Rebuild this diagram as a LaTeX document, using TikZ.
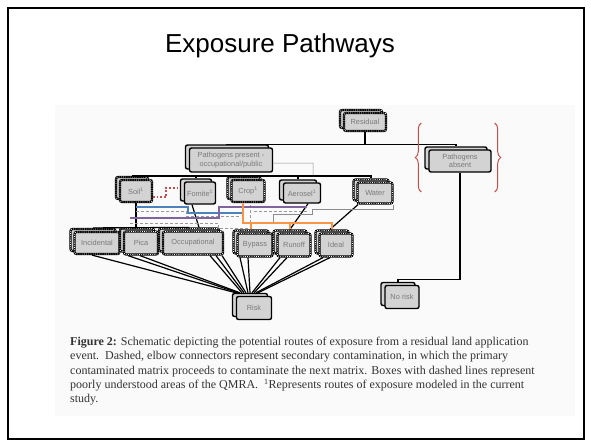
\documentclass[tikz,border=0pt]{standalone}
\usepackage{fontspec}
\setmainfont{Liberation Serif}
\setsansfont{Liberation Sans}
\usetikzlibrary{positioning,decorations.pathreplacing}

\definecolor{boxgrey}{HTML}{D3D3D3}
\definecolor{labelgrey}{HTML}{7A7A7A}
\definecolor{pathblue}{HTML}{4F81BD}
\definecolor{pathpurple}{HTML}{8064A2}
\definecolor{pathorange}{HTML}{F79646}
\definecolor{pathred}{HTML}{C0504D}

\begin{document}
\begin{tikzpicture}[x=1pt, y=-1pt,
    box/.style={draw=black, line width=1.4pt, fill=boxgrey, rounded corners=2pt,
        minimum height=22pt, inner sep=1pt, align=center, text=labelgrey,
        font=\sffamily\fontsize{7.4}{8.4}\selectfont},
    dotbox/.style={box, line width=2.2pt,
        postaction={draw=white, line width=0.8pt, dash pattern=on 0.8pt off 1.4pt}},
    link/.style={black, line width=1.2pt},
    faint/.style={black!45, line width=0.5pt},
    greydash/.style={black!40, line width=1pt, dash pattern=on 3pt off 2pt},
    colourlink/.style={line width=1.6pt},
    brace/.style={pathred, line width=1pt, decorate, decoration={brace, amplitude=6pt}}]
    \def\stackbox#1#2#3#4#5{
        \node[#4, minimum width=#3pt] (b#1) at ([xshift=-4pt,yshift=3pt]#2) {};
        \node[#4, minimum width=#3pt] (#1) at (#2) {#5};
    }

    \useasboundingbox (0,0) rectangle (591,444);
    \draw[line width=2.5pt] (8,8) rectangle (584,439);
    \fill[black!2] (55,105) rectangle (575,416);

    \node[font=\sffamily\fontsize{26}{30}\selectfont] (title) at (280,46) {Exposure Pathways};

    % Top of the tree
    \stackbox{Residual}{365,122}{42}{dotbox, minimum height=18pt}{Residual}
    \stackbox{PathPres}{231,160}{83}{box, minimum height=24pt}{Pathogens present -\\occupational/public}
    \stackbox{PathAbs}{460,161}{62}{box}{Pathogens\\absent}

    % Matrices
    \stackbox{Soil}{136,191}{32}{dotbox}{Soil\textsuperscript{1}}
    \stackbox{Fomite}{200,193}{31}{box}{Fomite\textsuperscript{1}}
    \stackbox{Crop}{248,191}{33}{dotbox}{Crop\textsuperscript{1}}
    \stackbox{Aerosel}{302,193}{37}{box, minimum height=20pt}{Aerosel\textsuperscript{1}}
    \stackbox{Water}{375,193}{35}{dotbox, minimum height=21pt}{Water}

    % Routes
    \stackbox{Incidental}{97,243}{45}{dotbox}{Incidental}
    \stackbox{Pica}{141,243}{34}{dotbox, minimum height=23pt}{Pica}
    \stackbox{Occupational}{193,243}{60}{dotbox, minimum height=23pt}{Occupational}
    \stackbox{Bypass}{255,245}{35}{dotbox, minimum height=23pt}{Bypass}
    \stackbox{Runoff}{294,245}{33}{dotbox, minimum height=23pt}{Runoff}
    \stackbox{Ideal}{336,245}{33}{dotbox, minimum height=23pt}{Ideal}

    % Outcomes
    \stackbox{Risk}{254,308}{35}{box, minimum height=23pt}{Risk}
    \stackbox{NoRisk}{402,297}{34}{box, minimum height=23pt}{No risk}

    % Tree connectors
    \draw[link] (Residual.south) -- ++(0,12) coordinate (split) -| (bPathPres.north);
    \draw[link] (split) -| (bPathAbs.north);
    \draw[link] (PathAbs.south) -- ++(0,107) -| (bNoRisk.north);
    \draw[faint] ([yshift=-3pt]PathPres.east) -- ++(40,0) -- (bSoil.north -| {313,0});
    \draw[link] (bSoil.north) -- (bSoil.north -| bWater.north) -- (bWater.north);
    \foreach \n in {Fomite,Crop,Aerosel}
        \draw[link] (b\n.north) -- (b\n.north |- bSoil.north);
    \draw[link] (Soil.south) -- (Soil.south |- bPica.north);
    \draw[link] (bIncidental.north) -- (bOccupational.north);
    \draw[link] ([xshift=-8pt]Fomite.south) -- ([xshift=10pt]bOccupational.north);
    \draw[link] ([xshift=6pt]Aerosel.south) -- (bRunoff.north);
    \draw[link] ([xshift=-17pt]Water.south) -- ([xshift=-2pt]bIdeal.north);

    % Secondary contamination
    \draw[greydash] ([yshift=-8pt]Soil.south) -- ++(50,0) |- ([xshift=-8pt,yshift=-13pt]Crop.south);
    \draw[greydash] ([xshift=-6pt,yshift=-20pt]Soil.south) -- ++(88,0) -- ++(0,5) -| ([xshift=2pt]Crop.south);
    \draw[greydash] ([xshift=6pt,yshift=-8pt]Crop.south) -- ++(55,0);
    \draw[faint] ([xshift=-29pt,yshift=-19pt]Aerosel.south) -- ++(0,-8) -- ++(39,0) -- ++(0,-5) -| ([xshift=18pt]Water.south);
    \draw[colourlink, pathblue] ([yshift=-4pt]Soil.south) -- ++(52,0) |- ([xshift=-6pt,yshift=-10pt]Crop.south);
    \draw[colourlink, pathpurple] ([xshift=-6pt,yshift=-15pt]Soil.south) -- ++(89,0) |- ([xshift=5pt,yshift=-3pt]Aerosel.south);
    \draw[colourlink, pathred, dotted] ([yshift=-6pt]Soil.east) -- ++(13,0) |- ([yshift=2pt]bFomite.west);
    \draw[colourlink, pathorange] ([xshift=-5pt]Crop.south) -- ++(0,20) coordinate (ocorner) -- (ocorner -| bIdeal.north) -- (bIdeal.north);
    \draw[colourlink, pathorange] (ocorner -| bBypass.north) -- (bBypass.north);
    \draw[colourlink, pathorange] (ocorner -| bRunoff.north) -- (bRunoff.north);

    % Routes to risk
    \foreach \n/\s/\e in {Incidental/-5/-14, Pica/-13/-12, Pica/-1/-10,
        Occupational/17/-8, Occupational/23/-6, Occupational/29/-4,
        Bypass/-15/-2, Bypass/-7/0, Runoff/-14/2, Runoff/-7/4,
        Ideal/-13/6, Ideal/-6/8}
        \draw[link] ([xshift=\s pt]\n.south) -- ([xshift=\e pt]bRisk.north);

    % Brackets round pathogens absent
    \draw[brace] ([xshift=-7pt,yshift=-31pt]PathAbs.west) -- ([xshift=-7pt,yshift=38pt]PathAbs.west);
    \draw[brace] ([xshift=3pt,yshift=38pt]PathAbs.east) -- ([xshift=3pt,yshift=-31pt]PathAbs.east);

    \node[anchor=north west, align=left, inner sep=0pt, text=black!80,
        font=\fontsize{12}{14.3}\selectfont] (caption) at (70,337)
        {\textbf{Figure 2:} Schematic depicting the potential routes of exposure from a residual land application\\
        event.\ \ Dashed, elbow connectors represent secondary contamination, in which the primary\\
        contaminated matrix proceeds to contaminate the next matrix. Boxes with dashed lines represent\\
        poorly understood areas of the QMRA.\ \ \textsuperscript{1}Represents routes of exposure modeled in the current\\
        study.};
\end{tikzpicture}
\end{document}
